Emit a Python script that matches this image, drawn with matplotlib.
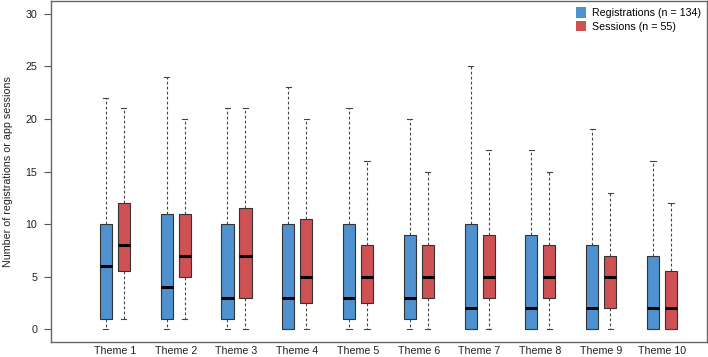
import matplotlib
matplotlib.use("Agg")
import matplotlib.pyplot as plt
from matplotlib.patches import Patch

plt.rcParams['font.family'] = ['Liberation Sans', 'DejaVu Sans']

themes = [f"Theme {i}" for i in range(1, 11)]
# registrations: whislo, q1, med, q3, whishi
reg_lo  = [0, 0, 0, 0, 0, 0, 0, 0, 0, 0]
reg_q1  = [1, 1, 1, 0, 1, 1, 0, 0, 0, 0]
reg_med = [6, 4, 3, 3, 3, 3, 2, 2, 2, 2]
reg_q3  = [10, 11, 10, 10, 10, 9, 10, 9, 8, 7]
reg_hi  = [22, 24, 21, 23, 21, 20, 25, 17, 19, 16]
# sessions
ses_lo  = [1, 1, 0, 0, 0, 0, 0, 0, 0, 0]
ses_q1  = [5.5, 5, 3, 2.5, 2.5, 3, 3, 3, 2, 0]
ses_med = [8, 7, 7, 5, 5, 5, 5, 5, 5, 2]
ses_q3  = [12, 11, 11.5, 10.5, 8, 8, 9, 8, 7, 5.5]
ses_hi  = [21, 20, 21, 20, 16, 15, 17, 15, 13, 12]

blue = '#4E93CF'
red = '#CE5154'
fs = 7.7

fig = plt.figure(figsize=(7.08, 3.57), dpi=100)
ax = fig.add_axes([51/708, 15/357, (707-51)/708, (342-1)/357])

def stats(lo, q1, med, q3, hi):
    return [dict(whislo=a, q1=b, med=c, q3=d, whishi=e, fliers=[]) for a, b, c, d, e in zip(lo, q1, med, q3, hi)]

n = len(themes)
pos = list(range(1, n + 1))
off = 0.148
w = 0.2
common = dict(widths=w, patch_artist=True, showfliers=False,
              whiskerprops=dict(color='#444444', linestyle=(0, (2.5, 2)), linewidth=0.8),
              capprops=dict(color='#444444', linewidth=0.8),
              medianprops=dict(color='black', linewidth=2.2, solid_capstyle='butt'),
              manage_ticks=False, capwidths=0.085)
ax.bxp(stats(reg_lo, reg_q1, reg_med, reg_q3, reg_hi), positions=[p - off for p in pos],
       boxprops=dict(facecolor=blue, edgecolor='#333333', linewidth=0.8), **common)
ax.bxp(stats(ses_lo, ses_q1, ses_med, ses_q3, ses_hi), positions=[p + off for p in pos],
       boxprops=dict(facecolor=red, edgecolor='#333333', linewidth=0.8), **common)

ax.set_xlim(-0.05, 10.74)
ax.set_ylim(-1.2, 31.2)
ax.set_yticks([0, 5, 10, 15, 20, 25, 30])
ax.tick_params(axis='y', labelsize=fs, length=5, pad=5, color='#555555', labelcolor='#222222')
ax.set_xticks(pos)
ax.set_xticklabels(themes)
ax.tick_params(axis='x', length=0, labelsize=fs, pad=3, labelcolor='#222222')
for s in ax.spines.values():
    s.set_color('#666666')
    s.set_linewidth(1)
ax.set_ylabel('Number of registrations or app sessions', fontsize=fs, color='#222222', labelpad=9)

handles = [Patch(facecolor=blue, edgecolor='none'), Patch(facecolor=red, edgecolor='none')]
ax.legend(handles, ['Registrations (n = 134)', 'Sessions (n = 55)'], loc='upper right',
          frameon=False, fontsize=fs, handlelength=1.0, handleheight=1.1, handletextpad=0.5,
          borderaxespad=0.2, labelspacing=0.25)

fig.savefig('out.png', dpi=100)
